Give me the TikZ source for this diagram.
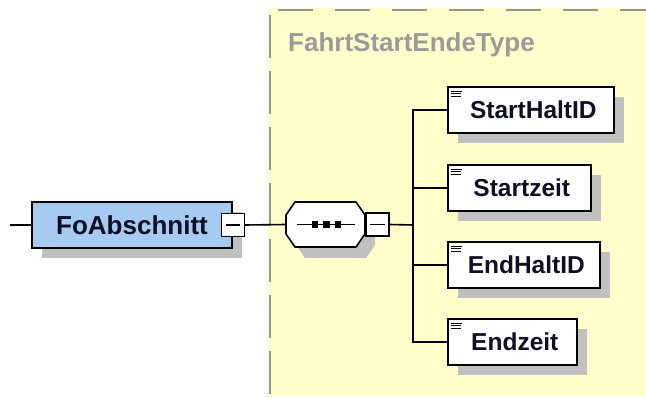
\documentclass[tikz,border=0pt]{standalone}
\usepackage{fontspec}
\setmainfont{Liberation Sans}
\usetikzlibrary{shadows,calc}
\definecolor{yel}{RGB}{255,255,204}
\definecolor{bluefill}{RGB}{166,202,240}
\definecolor{shadowgray}{RGB}{192,192,192}
\definecolor{dashgray}{RGB}{150,150,150}
\definecolor{titlegray}{RGB}{155,155,155}
\definecolor{txt}{RGB}{15,15,40}
\begin{document}
\begin{tikzpicture}[x=1pt,y=-1pt,
  conn/.style={line width=1.6pt,black},
  elbox/.style={draw=black,line width=1.6pt,fill=white,minimum height=46pt,inner sep=0pt,
     font=\fontsize{24.5}{28}\selectfont\bfseries,text=txt,
     drop shadow={shadow xshift=10pt,shadow yshift=-10pt,fill=shadowgray,opacity=1}},
  minusbox/.style={draw=black,line width=1.3pt,fill=white,minimum size=23pt,inner sep=0pt},
  titletext/.style={font=\fontsize{26}{30}\selectfont\bfseries,text=titlegray,inner sep=0pt},
  boxedge/.style={line width=2pt,dashgray}
]
\useasboundingbox (0,0) rectangle (646,398);
\fill[white] (0,0) rectangle (646,398);
% type area
\fill[yel] (268,8) rectangle (646,396);
\draw[boxedge,dash pattern=on 35pt off 22pt] (278,10) -- (646,10);
\draw[boxedge,dash pattern=on 43pt off 13pt] (270,15) -- (270,396);
\node[titletext,anchor=base west] (title) at (288,52) {FahrtStartEndeType};

% FoAbschnitt
\node[elbox,fill=bluefill,minimum width=200pt,minimum height=46pt,font=\fontsize{26}{30}\selectfont\bfseries] (fo) at (132,225) {FoAbschnitt\hspace{4pt}};
\node[minusbox] (fominus) at (233,225) {};
\draw[line width=1.6pt] ($(fominus.west)+(5,0)$) -- ($(fominus.east)+(-5,0)$);
\coordinate (start) at (10,225);
\draw[conn] (start) -- (fo.west);

% sequence octagon
\coordinate (seq) at (325.5,224.5);
\fill[shadowgray] ($(seq)+(-39.5+10,-9.5+11)$) -- ($(seq)+(-30.5+10,-22.5+11)$) -- ($(seq)+(30.5+10,-22.5+11)$) -- ($(seq)+(39.5+10,-9.5+11)$)
  -- ($(seq)+(39.5+10,9.5+11)$) -- ($(seq)+(30.5+10,22.5+11)$) -- ($(seq)+(-30.5+10,22.5+11)$) -- ($(seq)+(-39.5+10,9.5+11)$) -- cycle;
\draw[line width=1.6pt,fill=white] ($(seq)+(-39.5,-9.5)$) -- ($(seq)+(-30.5,-22.5)$) -- ($(seq)+(30.5,-22.5)$) -- ($(seq)+(39.5,-9.5)$)
  -- ($(seq)+(39.5,9.5)$) -- ($(seq)+(30.5,22.5)$) -- ($(seq)+(-30.5,22.5)$) -- ($(seq)+(-39.5,9.5)$) -- cycle;
\coordinate (seqwest) at ($(seq)+(-39.5,0)$);
\draw[line width=1.6pt] ($(seq)+(-28.5,0)$) -- ($(seq)+(29.5,0)$);
\foreach \dx in {-10.5,1,12.5}{\fill ($(seq)+(\dx-3.2,-3.2)$) rectangle ($(seq)+(\dx+3.2,3.2)$);}
\node[minusbox] (seqminus) at (377.5,224.5) {};
\draw[line width=1.6pt] ($(seqminus.west)+(5,0)$) -- ($(seqminus.east)+(-5,0)$);
\draw[conn] (fominus.east) -- (seqwest);

% children
\node[elbox,minimum width=166pt,anchor=west] (c1) at (447,110) {\hspace{5pt}StartHaltID};
\node[elbox,minimum width=143pt,anchor=west] (c2) at (447,188) {\hspace{5pt}Startzeit};
\node[elbox,minimum width=152pt,anchor=west] (c3) at (447,265) {\hspace{5pt}EndHaltID};
\node[elbox,minimum width=129pt,anchor=west] (c4) at (447,342) {\hspace{5pt}Endzeit};
\foreach \n in {c1,c2,c3,c4}{
  \draw[line width=1.2pt] ($(\n.north west)+(4,5)$) -- +(11,0);
  \draw[line width=1.2pt] ($(\n.north west)+(4,7.5)$) -- +(10,0);
  \draw[line width=1.2pt] ($(\n.north west)+(4,10)$) -- +(10,0);
}
\coordinate (bus) at (413,225);
\draw[conn] (seqminus.east) -- (bus);
\foreach \n in {c1,c2,c3,c4}{\draw[conn] (\n.west) -| (bus);}
\end{tikzpicture}
\end{document}
